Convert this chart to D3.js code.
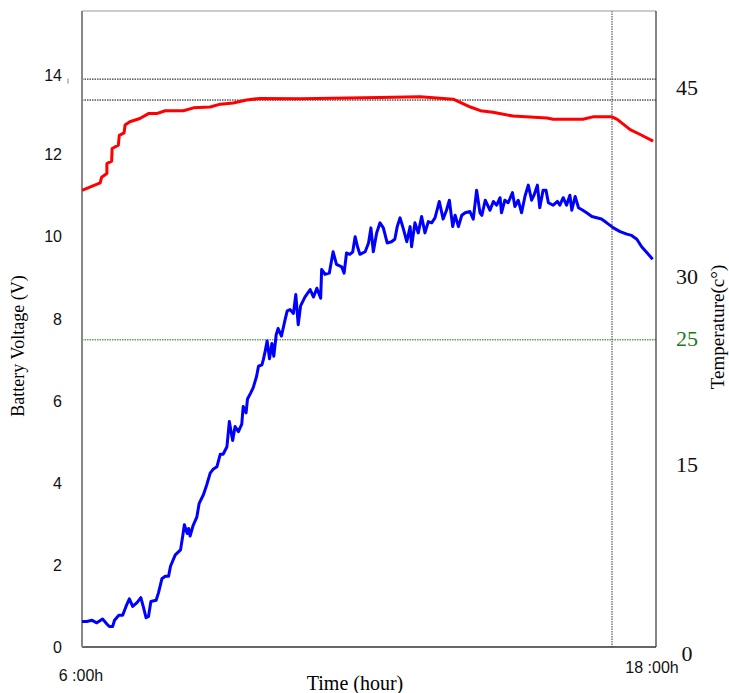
<!DOCTYPE html>
<html>
<head>
<meta charset="utf-8">
<script src="https://cdn.jsdelivr.net/npm/d3@7"></script>
<style>
  body { margin: 0; background: #fff; }
  svg { display: block; }
</style>
</head>
<body>
<svg id="chart" width="729" height="693"></svg>
<script>
// battery voltage (red, left axis): [hour, volts]
const voltage = [
  [6.00, 11.13], [6.38, 11.31], [6.41, 11.45], [6.52, 11.54], [6.52, 11.78],
  [6.62, 11.84], [6.63, 12.15], [6.76, 12.23], [6.78, 12.47], [6.88, 12.53],
  [6.90, 12.72], [7.00, 12.80], [7.21, 12.88], [7.39, 13.00], [7.56, 13.00],
  [7.74, 13.07], [8.12, 13.07], [8.33, 13.14], [8.68, 13.16], [8.89, 13.23],
  [9.16, 13.26], [9.44, 13.33], [9.72, 13.37], [10.56, 13.36], [12.23, 13.39],
  [13.07, 13.41], [13.76, 13.35], [14.12, 13.16], [14.33, 13.07], [14.59, 13.03],
  [15.01, 12.94], [15.72, 12.89], [15.85, 12.86], [16.47, 12.86], [16.68, 12.92],
  [17.08, 12.92], [17.19, 12.86], [17.46, 12.61], [17.67, 12.49], [17.94, 12.33]
];

// temperature (blue, right axis): [hour, deg C]
const temperature = [
  [6.00, 2.5], [6.10, 2.5], [6.21, 2.6], [6.31, 2.4], [6.43, 2.7], [6.52, 2.3],
  [6.57, 2.1], [6.64, 2.1], [6.68, 2.6], [6.77, 3.0], [6.85, 3.0], [6.92, 3.7],
  [6.99, 4.3], [7.06, 3.7], [7.15, 4.0], [7.23, 4.4], [7.28, 3.7], [7.34, 2.8],
  [7.39, 2.9], [7.44, 4.1], [7.55, 4.2], [7.60, 4.8], [7.67, 5.9], [7.74, 6.1],
  [7.81, 6.1], [7.85, 6.9], [7.95, 7.8], [8.06, 8.2], [8.11, 9.4], [8.14, 10.2],
  [8.20, 9.5], [8.23, 9.9], [8.26, 9.3], [8.32, 10.1], [8.40, 10.8], [8.45, 11.9],
  [8.54, 12.6], [8.61, 13.4], [8.68, 14.3], [8.74, 14.6], [8.82, 14.8], [8.89, 15.8],
  [8.95, 15.8], [9.03, 16.4], [9.08, 18.4], [9.15, 16.9], [9.20, 18.0], [9.27, 17.6],
  [9.34, 18.2], [9.37, 19.6], [9.43, 19.1], [9.46, 20.2], [9.53, 20.7], [9.58, 21.1],
  [9.65, 22.0], [9.69, 22.8], [9.76, 22.9], [9.79, 23.3], [9.83, 24.0], [9.87, 24.8],
  [9.92, 23.4], [9.97, 24.6], [10.01, 23.6], [10.06, 25.3], [10.10, 25.8], [10.17, 25.2],
  [10.24, 26.4], [10.29, 27.2], [10.35, 27.3], [10.42, 27.0], [10.47, 28.5], [10.52, 26.1],
  [10.57, 27.6], [10.66, 28.3], [10.77, 28.9], [10.84, 28.3], [10.91, 29.0], [10.99, 28.2],
  [11.01, 30.5], [11.08, 30.1], [11.17, 30.2], [11.25, 31.9], [11.32, 30.9], [11.43, 30.7],
  [11.48, 30.2], [11.53, 31.8], [11.60, 31.7], [11.66, 31.9], [11.71, 33.1], [11.76, 32.3],
  [11.81, 31.7], [11.92, 31.9], [11.99, 32.6], [12.04, 33.8], [12.09, 31.9], [12.16, 33.4],
  [12.23, 34.2], [12.30, 33.8], [12.38, 32.6], [12.47, 32.7], [12.54, 32.9], [12.59, 33.9],
  [12.65, 34.6], [12.72, 33.7], [12.79, 32.7], [12.86, 33.9], [12.89, 32.3], [12.96, 34.2],
  [13.03, 33.4], [13.10, 34.7], [13.17, 33.4], [13.24, 34.3], [13.31, 34.2], [13.38, 34.6],
  [13.47, 35.9], [13.55, 34.5], [13.62, 35.2], [13.68, 36.0], [13.75, 33.9], [13.80, 34.8],
  [13.87, 33.9], [13.94, 34.8], [14.01, 35.0], [14.11, 35.1], [14.18, 34.5], [14.25, 36.8],
  [14.32, 35.0], [14.36, 34.8], [14.43, 36.0], [14.53, 35.2], [14.60, 35.9], [14.67, 35.6],
  [14.74, 36.2], [14.77, 35.0], [14.84, 36.0], [14.91, 35.8], [15.00, 36.6], [15.05, 35.5],
  [15.12, 36.0], [15.19, 35.0], [15.26, 36.3], [15.33, 37.2], [15.40, 36.0], [15.45, 36.4],
  [15.52, 37.2], [15.57, 35.4], [15.64, 36.8], [15.70, 36.8], [15.75, 35.8], [15.85, 35.6],
  [15.94, 35.9], [15.99, 35.6], [16.06, 36.2], [16.13, 35.6], [16.20, 36.4], [16.24, 35.2],
  [16.31, 36.3], [16.38, 35.4], [16.47, 35.2], [16.55, 35.0], [16.66, 34.7], [16.76, 34.6],
  [16.86, 34.5], [16.97, 34.2], [17.11, 33.8], [17.25, 33.5], [17.39, 33.3], [17.49, 33.2],
  [17.60, 32.9], [17.70, 32.3], [17.84, 31.7], [17.93, 31.3]
];

const voltTicks = [0, 2, 4, 6, 8, 10, 12, 14];
const tempTicks = [0, 15, 25, 30, 45];
const timeTicks = ["6 :00h", "18 :00h"];
const voltRefLines = [13.84, 13.33];
const tempRefLine = 24.9;
const markerHour = 17.08;

const svg = d3.select("#chart");
const plot = { left: 82, right: 656, top: 11, bottom: 647 };

const x = d3.scaleLinear().domain([6, 18]).range([plot.left, plot.right]);
const yV = d3.scaleLinear().domain([0, 15.5]).range([plot.bottom, plot.top]);
const yT = d3.scaleLinear().domain([0, 45]).range([653, 87]);

// reference lines
svg.selectAll(".vref")
  .data(voltRefLines)
  .enter()
  .append("line")
  .attr("x1", plot.left).attr("x2", plot.right)
  .attr("y1", (d) => yV(d)).attr("y2", (d) => yV(d))
  .attr("stroke", "#000")
  .attr("stroke-width", 1)
  .attr("stroke-dasharray", "1.5,1");

svg.append("line")
  .attr("x1", plot.left).attr("x2", plot.right)
  .attr("y1", yT(tempRefLine)).attr("y2", yT(tempRefLine))
  .attr("stroke", "#1a6e1a")
  .attr("stroke-width", 1)
  .attr("stroke-dasharray", "1.5,1");

svg.append("line")
  .attr("x1", x(markerHour)).attr("x2", x(markerHour))
  .attr("y1", plot.top).attr("y2", plot.bottom)
  .attr("stroke", "#666")
  .attr("stroke-width", 1.3)
  .attr("stroke-dasharray", "1.5,1");

// frame
svg.append("line").attr("x1", plot.left).attr("x2", plot.right).attr("y1", plot.top).attr("y2", plot.top)
  .attr("stroke", "#999").attr("stroke-width", 1);
svg.append("line").attr("x1", plot.right).attr("x2", plot.right).attr("y1", plot.top).attr("y2", plot.bottom)
  .attr("stroke", "#333").attr("stroke-width", 1.2);
svg.append("line").attr("x1", plot.left).attr("x2", plot.right).attr("y1", plot.bottom).attr("y2", plot.bottom)
  .attr("stroke", "#333").attr("stroke-width", 1.5);
svg.append("line").attr("x1", plot.left).attr("x2", plot.left).attr("y1", plot.top).attr("y2", plot.bottom)
  .attr("stroke", "#888").attr("stroke-width", 2);

// series
const line = (yScale) => d3.line().x((d) => x(d[0])).y((d) => yScale(d[1]));

svg.append("path")
  .datum(temperature)
  .attr("d", line(yT))
  .attr("fill", "none")
  .attr("stroke", "#0000ff")
  .attr("stroke-width", 3)
  .attr("stroke-linejoin", "round");

svg.append("path")
  .datum(voltage)
  .attr("d", line(yV))
  .attr("fill", "none")
  .attr("stroke", "#ff0000")
  .attr("stroke-width", 3)
  .attr("stroke-linejoin", "round");

// left tick labels
svg.selectAll(".vtick")
  .data(voltTicks)
  .enter()
  .append("text")
  .attr("x", 62)
  .attr("y", (d) => yV(d) + (d === 14 ? 3 : 0))
  .attr("dy", "0.36em")
  .attr("text-anchor", "end")
  .attr("font-family", "Liberation Sans, Arial, sans-serif")
  .attr("font-size", 16)
  .attr("fill", "#111")
  .text((d) => d);

// small stray tick next to 14
svg.append("line")
  .attr("x1", 68).attr("x2", 68)
  .attr("y1", yV(14) + 6).attr("y2", yV(14) + 11)
  .attr("stroke", "#666").attr("stroke-width", 0.8);

// right tick labels
svg.selectAll(".ttick")
  .data(tempTicks)
  .enter()
  .append("text")
  .attr("x", 687)
  .attr("y", (d) => yT(d))
  .attr("dy", "0.36em")
  .attr("text-anchor", "middle")
  .attr("font-family", "Liberation Serif, Times New Roman, serif")
  .attr("font-size", 22)
  .attr("fill", (d) => (d === 25 ? "#1a7a1a" : "#111"))
  .text((d) => d);

// time labels
svg.selectAll(".xtick")
  .data(timeTicks)
  .enter()
  .append("text")
  .attr("x", (d, i) => (i === 0 ? x(6) - 1 : x(18) - 4))
  .attr("y", (d, i) => (i === 0 ? 681 : 673))
  .attr("text-anchor", "middle")
  .attr("font-family", "Liberation Sans, Arial, sans-serif")
  .attr("font-size", 16)
  .attr("fill", "#111")
  .text((d) => d);

// axis titles
svg.append("text")
  .attr("x", 355).attr("y", 690)
  .attr("text-anchor", "middle")
  .attr("font-family", "Liberation Serif, Times New Roman, serif")
  .attr("font-size", 20)
  .text("Time (hour)");

svg.append("text")
  .attr("transform", "translate(24, 346) rotate(-90)")
  .attr("text-anchor", "middle")
  .attr("font-family", "Liberation Serif, Times New Roman, serif")
  .attr("font-size", 18)
  .text("Battery Voltage (V)");

svg.append("text")
  .attr("transform", "translate(724, 327) rotate(-90)")
  .attr("text-anchor", "middle")
  .attr("font-family", "Liberation Serif, Times New Roman, serif")
  .attr("font-size", 19)
  .text("Temperature(c°)");
</script>
</body>
</html>
